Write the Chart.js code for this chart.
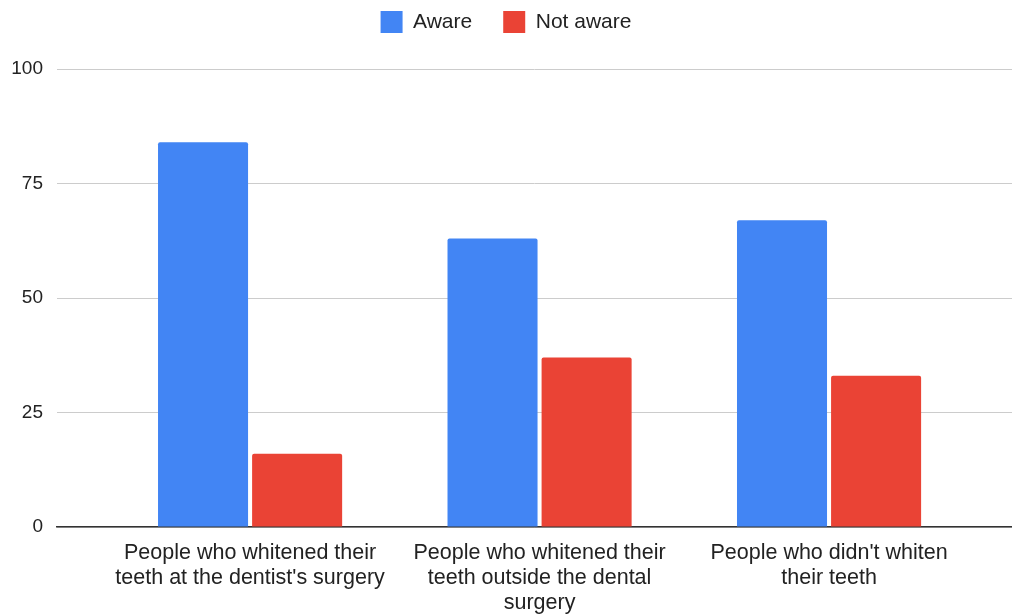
<!DOCTYPE html>
<html>
<head>
<meta charset="utf-8">
<script src="https://cdn.jsdelivr.net/npm/chart.js@4.4.1/dist/chart.umd.min.js"></script>
<style>
  html, body { margin: 0; padding: 0; background: #fff; }
  #wrap { width: 1012px; height: 614px; position: relative; }
</style>
</head>
<body>
<div id="wrap"><canvas id="awarenessChart"></canvas></div>
<script>
// categories and values
const categories = [
    ['People who whitened their', "teeth at the dentist's surgery"],
    ['People who whitened their', 'teeth outside the dental', 'surgery'],
    ["People who didn't whiten", 'their teeth']
];
const awareValues = [84, 63, 67];
const notAwareValues = [16, 37, 33];
const yTicks = [0, 25, 50, 75, 100];

const FONT = "'Liberation Sans', Arial, sans-serif";

// push the legend down a little so the plot starts where the reference does
const legendMargin = {
    id: 'legendMargin',
    beforeInit(chart) {
        const fit = chart.legend.fit;
        chart.legend.fit = function () {
            fit.bind(chart.legend)();
            this.height += 26;
        };
    }
};

document.addEventListener('DOMContentLoaded', function () {
    const chart = new Chart(document.getElementById('awarenessChart'), {
        type: 'bar',
        data: {
            labels: categories,
            datasets: [{
                label: 'Aware',
                data: awareValues,
                backgroundColor: '#4285f4',
                borderRadius: 2,
                borderSkipped: 'bottom'
            }, {
                label: 'Not aware',
                data: notAwareValues,
                backgroundColor: '#ea4335',
                borderRadius: 2,
                borderSkipped: 'bottom'
            }]
        },
        options: {
            responsive: true,
            maintainAspectRatio: false,
            animation: false,
            categoryPercentage: 0.65,
            barPercentage: 0.957,
            layout: { padding: { top: -20, left: 0, right: 0, bottom: 0 } },
            plugins: {
                legend: {
                    position: 'top',
                    labels: {
                        boxWidth: 22,
                        boxHeight: 22,
                        padding: 31,
                        color: '#222',
                        font: { family: FONT, size: 21 }
                    }
                },
                tooltip: { enabled: false }
            },
            scales: {
                x: {
                    offset: true,
                    afterBuildTicks: function (scale) {
                        // extra room left/right of the groups, like the original
                        scale._startValue = -0.5 - 0.167;
                        scale._valueRange = categories.length + 0.167 + 0.132;
                    },
                    afterFit: function (scale) { scale.height = 87; },
                    grid: { display: false },
                    border: { display: true, color: '#333', width: 1.5 },
                    ticks: {
                        padding: 6,
                        color: '#222',
                        maxRotation: 0,
                        autoSkip: false,
                        font: { family: FONT, size: 21.5, lineHeight: 1.163 }
                    }
                },
                y: {
                    min: 0,
                    max: 100,
                    afterBuildTicks: function (scale) {
                        scale.ticks = yTicks.map(v => ({ value: v }));
                    },
                    afterFit: function (scale) { scale.width = 57; },
                    grid: { color: '#cccccc', lineWidth: 1, drawTicks: false },
                    border: { display: false },
                    ticks: {
                        padding: 14,
                        color: '#222',
                        font: { family: FONT, size: 19 }
                    }
                }
            }
        },
        plugins: [legendMargin]
    });
});
</script>
</body>
</html>
